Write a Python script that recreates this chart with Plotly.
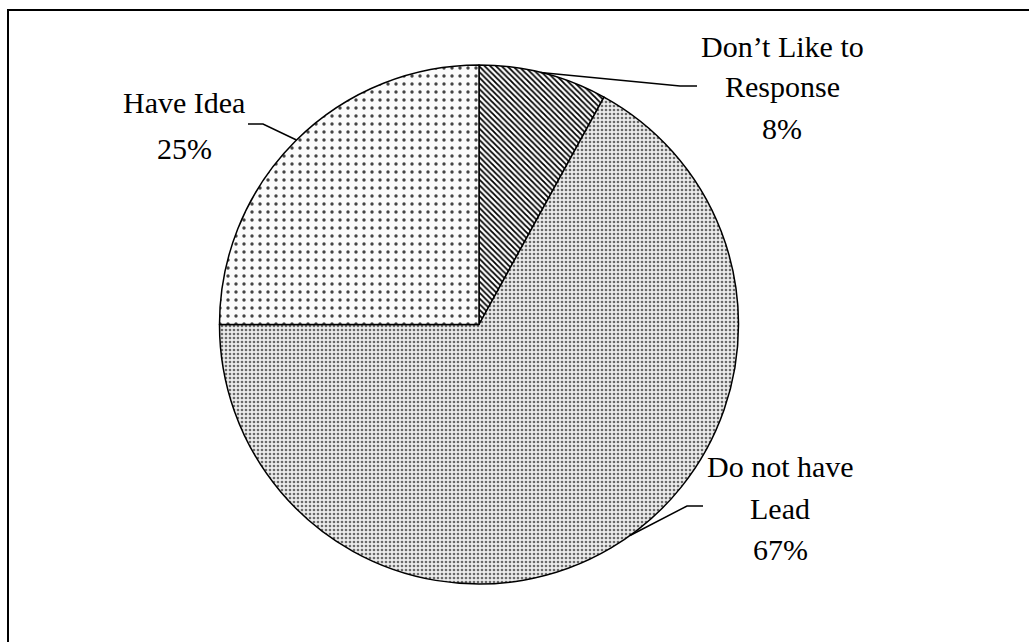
import math
import plotly.graph_objects as go

labels = ["Don\u2019t Like to Response", "Do not have Lead", "Have Idea"]
label_lines = [["Don\u2019t Like to", "Response"], ["Do not have", "Lead"], ["Have Idea"]]
values = [8, 67, 25]

W, H = 1029, 642
CX, CY, R = 479, 324.5, 259.5

def px(x):
    return x / W

def py(y):
    return 1 - y / H

patterns = [
    dict(shape="\\", fgcolor="#000000", bgcolor="#ffffff", size=4, solidity=0.45),
    dict(shape=".", fgcolor="#6a6a6a", bgcolor="#ececec", size=4, solidity=0.35),
    dict(shape=".", fgcolor="#444444", bgcolor="#fbfbfb", size=8, solidity=0.14),
]

fig = go.Figure(go.Pie(
    labels=labels,
    values=values,
    sort=False,
    direction="clockwise",
    rotation=0,
    textinfo="none",
    hoverinfo="label+percent",
    showlegend=False,
    marker=dict(
        colors=["#ffffff"] * 3,
        line=dict(color="#000000", width=1.5),
        pattern=dict(
            shape=[p["shape"] for p in patterns],
            fgcolor=[p["fgcolor"] for p in patterns],
            bgcolor=[p["bgcolor"] for p in patterns],
            size=[p["size"] for p in patterns],
            solidity=[p["solidity"] for p in patterns],
        ),
    ),
    domain=dict(x=[px(CX - R), px(CX + R)], y=[py(CY + R), py(CY - R)]),
))

# label text centre x, first-line y and line step (pixels)
label_x = [782, 780, 184]
label_y0 = [46, 466.5, 103]
line_step = [41, 41.5, 45]
elbows = [((680, 86), (697, 86)), ((687, 506), (703, 506)), ((263, 124), (248, 124))]
anchor_shift = [-0.7, -5.0, 0.3]

FONT = "Liberation Serif"

total = sum(values)
annotations = []
shapes = []
cum = 0
for i, v in enumerate(values):
    mid = (cum + v / 2) / total * 360 + anchor_shift[i]
    cum += v
    ax = CX + R * math.sin(math.radians(mid))
    ay = CY - R * math.cos(math.radians(mid))
    (ex, ey), (hx, hy) = elbows[i]
    shapes.append(dict(
        type="path", xref="paper", yref="paper",
        path=f"M {px(ax)},{py(ay)} L {px(ex)},{py(ey)} L {px(hx)},{py(hy)}",
        line=dict(color="#000000", width=1.5),
    ))
    pct = round(v / total * 100)
    lines = label_lines[i] + [f"{pct}%"]
    for k, t in enumerate(lines):
        annotations.append(dict(
            x=px(label_x[i]), y=py(label_y0[i] + k * line_step[i]),
            xref="paper", yref="paper",
            text=t, showarrow=False, xanchor="center", yanchor="middle",
            font=dict(family=FONT, size=30, color="#000000"),
        ))

shapes.append(dict(
    type="rect", xref="paper", yref="paper",
    x0=px(8), y0=-0.05, x1=1.05, y1=py(10),
    line=dict(color="#000000", width=2), fillcolor="rgba(0,0,0,0)",
))

fig.update_layout(
    width=W, height=H,
    margin=dict(l=0, r=0, t=0, b=0),
    paper_bgcolor="#ffffff",
    plot_bgcolor="#ffffff",
    annotations=annotations,
    shapes=shapes,
)

fig.write_html("out.html")
